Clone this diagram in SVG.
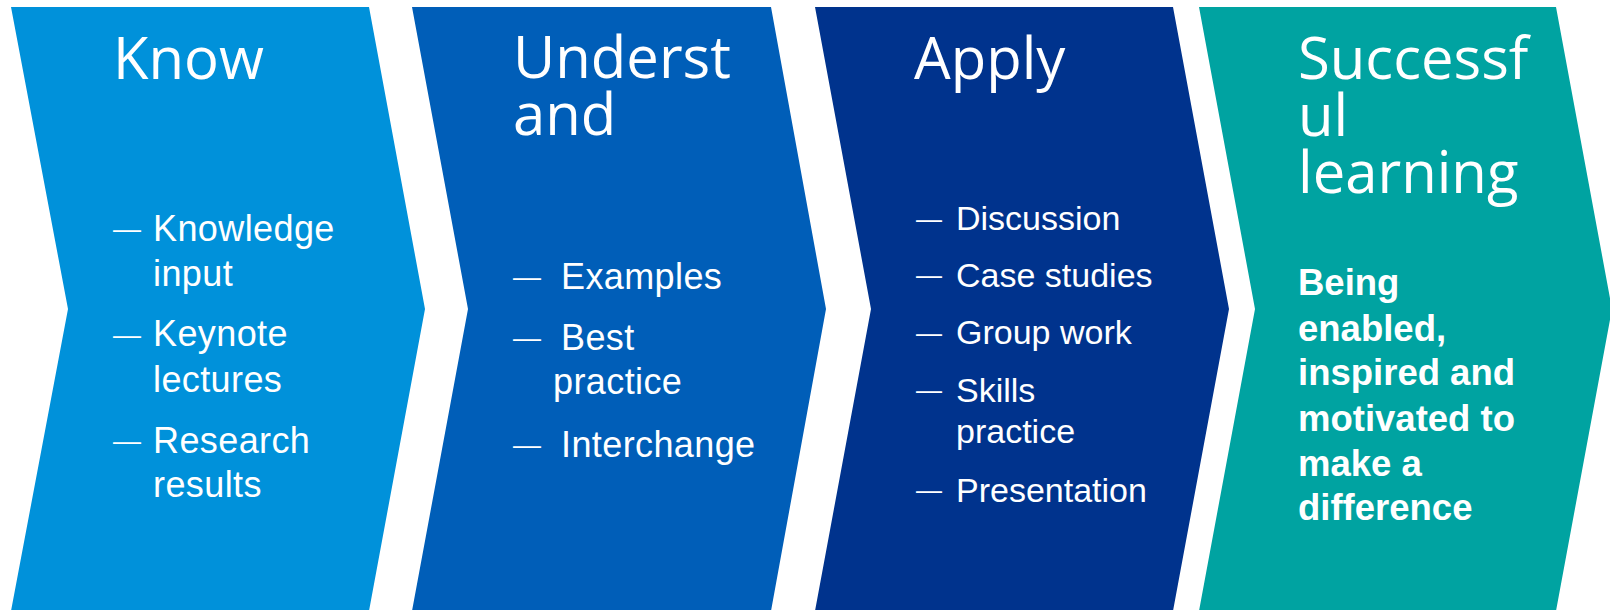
<svg xmlns="http://www.w3.org/2000/svg" width="1610" height="610" viewBox="0 0 1610 610">
<style>
.title{font-family:"Open Sans","DejaVu Sans",sans-serif;font-size:58px;fill:#fff}
.b{font-family:"Liberation Sans",Arial,sans-serif;font-size:36px;letter-spacing:0.4px;fill:#fff}
.b3{font-family:"Liberation Sans",Arial,sans-serif;font-size:34px;fill:#fff}
.d{font-family:"Liberation Sans",Arial,sans-serif;font-size:28px;fill:#fff}
.d3{font-family:"Liberation Sans",Arial,sans-serif;font-size:26px;fill:#fff}
.bold{font-family:"Liberation Sans",Arial,sans-serif;font-size:36.5px;font-weight:bold;fill:#fff}
</style>
<rect width="1610" height="610" fill="#fff"/>
<g id="know">
<polygon points="11,7 369,7 425,309 369,611 11,611 68,309" fill="#0091DA"/>
<text class="title" x="113" y="79">Know</text>
<text class="d" x="113" y="238">—</text>
<text class="b" x="153" y="240.5">Knowledge</text>
<text class="b" x="153" y="286">input</text>
<text class="d" x="113" y="343.5">—</text>
<text class="b" x="153" y="346">Keynote</text>
<text class="b" x="153" y="391.5">lectures</text>
<text class="d" x="113" y="450">—</text>
<text class="b" x="153" y="452.5">Research</text>
<text class="b" x="153" y="497">results</text>
</g>
<g id="understand">
<polygon points="412,7 771,7 826,309 771,611 412,611 468,309" fill="#005EB8"/>
<text class="title" x="513" y="77.5">Underst</text>
<text class="title" x="513" y="135">and</text>
<text class="d" x="513" y="286">—</text>
<text class="b" x="561" y="289.3">Examples</text>
<text class="d" x="513" y="347">—</text>
<text class="b" x="561" y="350">Best</text>
<text class="b" x="553" y="394">practice</text>
<text class="d" x="513" y="453.5">—</text>
<text class="b" x="561" y="456.7">Interchange</text>
</g>
<g id="apply">
<polygon points="815,7 1173,7 1229,309 1173,611 815,611 871,309" fill="#00338D"/>
<text class="title" x="914" y="79">Apply</text>
<text class="d3" x="916" y="227.5">—</text>
<text class="b3" x="956" y="230">Discussion</text>
<text class="d3" x="916" y="284.2">—</text>
<text class="b3" x="956" y="286.7">Case studies</text>
<text class="d3" x="916" y="341.5">—</text>
<text class="b3" x="956" y="344">Group work</text>
<text class="d3" x="916" y="399.2">—</text>
<text class="b3" x="956" y="401.7">Skills</text>
<text class="b3" x="956" y="443.3">practice</text>
<text class="d3" x="916" y="499.2">—</text>
<text class="b3" x="956" y="501.7">Presentation</text>
</g>
<g id="successful-learning">
<polygon points="1199,7 1556,7 1612,309 1556,611 1199,611 1255,309" fill="#00A3A1"/>
<text class="title" x="1298" y="79">Successf</text>
<text class="title" x="1298" y="136">ul</text>
<text class="title" x="1298" y="193">learning</text>
<text class="bold" x="1298" y="295">Being</text>
<text class="bold" x="1298" y="340.7">enabled,</text>
<text class="bold" x="1298" y="385">inspired and</text>
<text class="bold" x="1298" y="430.7">motivated to</text>
<text class="bold" x="1298" y="476">make a</text>
<text class="bold" x="1298" y="520">difference</text>
</g>
<g id="connectors"/>
</svg>
